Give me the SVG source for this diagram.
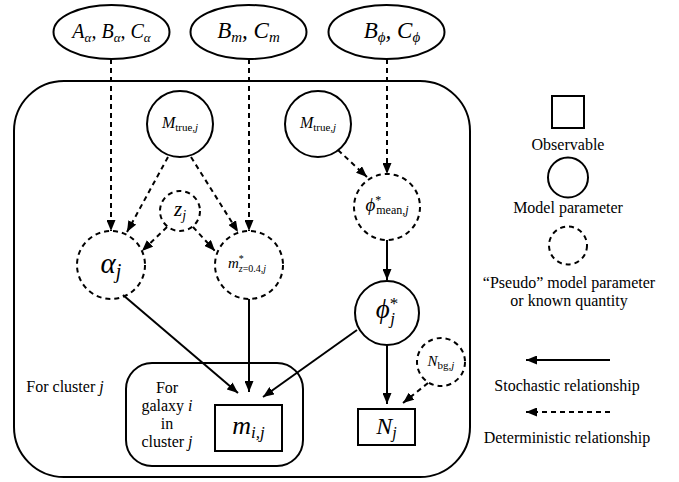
<svg xmlns="http://www.w3.org/2000/svg" width="679" height="482" viewBox="0 0 679 482">
<defs>
<style>
.s{fill:none;stroke:#000;stroke-width:2}
.d{stroke-dasharray:5 4}
.c{stroke:#000;stroke-width:2;fill:none}
text{font-family:"Liberation Serif","Times New Roman","DejaVu Serif",serif;fill:#000}
.t{font-size:16px;text-anchor:middle}
.m{font-style:italic;text-anchor:middle}
.u{font-style:normal}
</style>
<marker id="ah" viewBox="0 0 11 9" refX="11" refY="4.5" markerWidth="11" markerHeight="9" markerUnits="userSpaceOnUse" orient="auto">
<path d="M0,0 L11,4.5 L0,9 z" fill="#000"/>
</marker>
</defs>
<rect width="679" height="482" fill="#fff"/>

<g id="plate-cluster">
<rect class="s" x="14" y="81" width="456" height="396" rx="50" ry="50"/>
<text class="t" x="65" y="392">For cluster <tspan font-style="italic">j</tspan></text>
</g>
<g id="plate-galaxy">
<rect class="s" x="126" y="363" width="177" height="103" rx="26" ry="26"/>
<text class="t" x="167" y="393">For</text>
<text class="t" x="167" y="411">galaxy <tspan font-style="italic">i</tspan></text>
<text class="t" x="167" y="429">in</text>
<text class="t" x="167" y="447">cluster <tspan font-style="italic">j</tspan></text>
</g>

<g id="hyper-alpha">
<ellipse class="s" cx="111.5" cy="32" rx="58" ry="27"/>
<text class="m" x="111.5" y="38" font-size="20">A<tspan font-size="13" dy="4">α</tspan><tspan dy="-4">, B</tspan><tspan font-size="13" dy="4">α</tspan><tspan dy="-4">, C</tspan><tspan font-size="13" dy="4">α</tspan></text>
</g>
<g id="hyper-m">
<ellipse class="s" cx="248.5" cy="32" rx="58" ry="27"/>
<text class="m" x="248.5" y="38" font-size="23">B<tspan font-size="15" dy="4">m</tspan><tspan dy="-4">, C</tspan><tspan font-size="15" dy="4">m</tspan></text>
</g>
<g id="hyper-phi">
<ellipse class="s" cx="386.5" cy="32" rx="58" ry="27"/>
<text class="m" x="392" y="38" font-size="23">B<tspan font-size="15" dy="4">ϕ</tspan><tspan dy="-4">, C</tspan><tspan font-size="15" dy="4">ϕ</tspan></text>
</g>

<g id="mtrue-1">
<circle class="s" cx="180" cy="124" r="33"/>
<text class="m" x="180" y="128" font-size="16">M<tspan class="u" font-size="11" dy="3">true,</tspan><tspan font-size="11">j</tspan></text>
</g>
<g id="mtrue-2">
<circle class="s" cx="318" cy="124" r="33"/>
<text class="m" x="318" y="128" font-size="16">M<tspan class="u" font-size="11" dy="3">true,</tspan><tspan font-size="11">j</tspan></text>
</g>
<g id="zj">
<circle class="s d" cx="180" cy="211" r="20"/>
<text class="m" x="180" y="216" font-size="21">z<tspan font-size="14" dy="4">j</tspan></text>
</g>
<g id="alpha-j">
<circle class="s d" cx="111" cy="265" r="34"/>
<text class="m" x="111" y="273" font-size="29">α<tspan font-size="20" dy="5">j</tspan></text>
</g>
<g id="mstar">
<circle class="s d" cx="249" cy="265" r="34"/>
<text class="m" x="247" y="268" font-size="15">m<tspan class="u" font-size="10" dy="-6">*</tspan><tspan font-size="10" dx="-5" dy="10">z</tspan><tspan class="u" font-size="10">=0.4,</tspan><tspan font-size="10">j</tspan></text>
</g>
<g id="phi-mean">
<circle class="s d" cx="387" cy="207" r="33"/>
<text class="m" x="387" y="211" font-size="19">ϕ<tspan class="u" font-size="12" dy="-7">*</tspan><tspan class="u" font-size="12" dx="-5" dy="10">mean,</tspan><tspan font-size="12">j</tspan></text>
</g>
<g id="phi-j">
<circle class="s" cx="387" cy="313" r="32"/>
<text class="m" x="387" y="318" font-size="27">ϕ<tspan class="u" font-size="17" dy="-9">*</tspan><tspan font-size="17" dx="-8" dy="15">j</tspan></text>
</g>
<g id="nbg">
<circle class="s d" cx="441" cy="362" r="24"/>
<text class="m" x="441" y="366" font-size="15">N<tspan class="u" font-size="11" dy="3">bg,</tspan><tspan font-size="11">j</tspan></text>
</g>
<g id="mij">
<rect class="s" x="215" y="405" width="67" height="46"/>
<text class="m" x="248.5" y="434" font-size="26">m<tspan font-size="17" dy="4">i,j</tspan></text>
</g>
<g id="nj">
<rect class="s" x="358" y="409" width="57" height="36"/>
<text class="m" x="386.5" y="434" font-size="24">N<tspan font-size="16" dy="4">j</tspan></text>
</g>

<g id="connectors">
<line class="c d" x1="111" y1="59" x2="111" y2="231" marker-end="url(#ah)"/>
<line class="c d" x1="249" y1="59" x2="249" y2="231" marker-end="url(#ah)"/>
<line class="c d" x1="387" y1="59" x2="387" y2="174" marker-end="url(#ah)"/>
<line class="c d" x1="168" y1="157" x2="127" y2="232" marker-end="url(#ah)"/>
<line class="c d" x1="191" y1="157" x2="238" y2="232" marker-end="url(#ah)"/>
<line class="c d" x1="167" y1="227" x2="142" y2="251" marker-end="url(#ah)"/>
<line class="c d" x1="193" y1="227" x2="215" y2="251" marker-end="url(#ah)"/>
<line class="c d" x1="338" y1="150" x2="367" y2="177" marker-end="url(#ah)"/>
<line class="c d" x1="428" y1="383" x2="403" y2="403" marker-end="url(#ah)"/>
<line class="c" x1="387" y1="240" x2="387" y2="280" marker-end="url(#ah)"/>
<line class="c" x1="123" y1="295" x2="238" y2="393" marker-end="url(#ah)"/>
<line class="c" x1="249" y1="299" x2="249" y2="392" marker-end="url(#ah)"/>
<line class="c" x1="357" y1="330" x2="263" y2="397" marker-end="url(#ah)"/>
<line class="c" x1="387" y1="345" x2="387" y2="404" marker-end="url(#ah)"/>
</g>

<g id="legend">
<rect class="s" x="552" y="96" width="32" height="32"/>
<text class="t" x="568" y="150">Observable</text>
<circle class="s" cx="568" cy="177.5" r="20"/>
<text class="t" x="568" y="213">Model parameter</text>
<circle class="s d" cx="568" cy="245.5" r="19"/>
<text class="t" x="569" y="288">“Pseudo” model parameter</text>
<text class="t" x="569" y="306">or known quantity</text>
<line class="c" x1="610" y1="360" x2="526" y2="360" marker-end="url(#ah)"/>
<text class="t" x="567" y="391">Stochastic relationship</text>
<line class="c d" x1="610" y1="412" x2="526" y2="412" marker-end="url(#ah)"/>
<text class="t" x="567" y="443">Deterministic relationship</text>
</g>
</svg>
